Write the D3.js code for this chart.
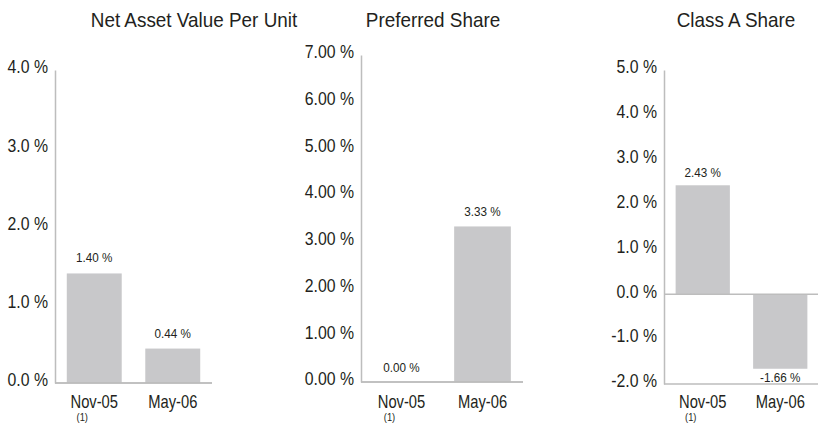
<!DOCTYPE html>
<html>
    <head>
        <meta charset="UTF-8">
        <script src="https://d3js.org/d3.v7.min.js"></script>
        <style>
            body { margin: 0; background: #fff; }
            text { font-family: "Liberation Sans", Arial, sans-serif; fill: #231f20; }
        </style>
    </head>

    <body>

        <svg id="canvas"></svg>

        <script>

            width = 818;
            height = 426;

            categories = ["Nov-05", "May-06"];
            footnotes = ["(1)", ""];

            navTitle = "Net Asset Value Per Unit";
            navValues = [1.40, 0.44];
            navTicks = [0, 1, 2, 3, 4];

            prefTitle = "Preferred Share";
            prefValues = [0.00, 3.33];
            prefTicks = [0, 1, 2, 3, 4, 5, 6, 7];

            classATitle = "Class A Share";
            classAValues = [2.43, -1.66];
            classATicks = [-2, -1, 0, 1, 2, 3, 4, 5];

            barColor = "#c8c8ca";
            axisColor = "#bdbdbd";

            canvas = d3.select("#canvas")
                .attr("width", width)
                .attr("height", height);

            panels = [
                { title: navTitle, values: navValues, ticks: navTicks, digits: 1,
                  left: 55, right: 212, top: 70, bottom: 383, titleX: 194, lift: 11 },
                { title: prefTitle, values: prefValues, ticks: prefTicks, digits: 2,
                  left: 361, right: 523, top: 55, bottom: 382, titleX: 433, lift: 10 },
                { title: classATitle, values: classAValues, ticks: classATicks, digits: 1,
                  left: 664, right: 819, top: 70, bottom: 384, titleX: 736, lift: 8 }
            ];

            function fmt(v, digits) {
                return v.toFixed(digits) + " %";
            }

            // the source font is a narrow grotesque; squeeze Liberation Sans horizontally
            function narrow(sel, sx) {
                sel.attr("transform", function() {
                    var t = d3.select(this);
                    var px = +t.attr("x") || 0, py = +t.attr("y") || 0;
                    t.attr("x", 0).attr("y", 0);
                    return "translate(" + px + "," + py + ") scale(" + sx + ",1)";
                });
            }

            panels.forEach(function(p) {

                g = canvas.append("g");

                x = d3.scaleBand()
                    .domain(categories)
                    .range([p.left, p.right])
                    .paddingInner(0.3)
                    .paddingOuter(0.15);

                y = d3.scaleLinear()
                    .domain(d3.extent(p.ticks))
                    .range([p.bottom, p.top]);

                g.append("text")
                    .attr("x", p.titleX)
                    .attr("y", 27)
                    .attr("text-anchor", "middle")
                    .style("font-size", "21px")
                    .call(narrow, 0.9)
                    .text(p.title);

                // y axis: only the line and the labels
                yAxis = g.append("g")
                    .attr("transform", "translate(" + p.left + ",0)")
                    .call(d3.axisLeft(y)
                        .tickValues(p.ticks)
                        .tickSize(0)
                        .tickPadding(7)
                        .tickFormat(d => fmt(d, p.digits)));
                yAxis.select(".domain").attr("stroke", axisColor).attr("stroke-width", 1.5);
                yAxis.selectAll(".tick text")
                    .attr("x", -7)
                    .attr("y", -3)
                    .attr("dy", "0.32em")
                    .style("font-size", "18px")
                    .style("fill", "#231f20")
                    .call(narrow, 0.88);

                // bars
                g.selectAll("rect.bar")
                    .data(p.values)
                    .enter().append("rect")
                    .attr("class", "bar")
                    .attr("x", (d, i) => x(categories[i]))
                    .attr("width", x.bandwidth())
                    .attr("y", d => y(Math.max(0, d)))
                    .attr("height", d => Math.abs(y(d) - y(0)))
                    .attr("fill", barColor);

                // baseline at zero and bottom line
                [0, d3.min(p.ticks)].forEach(function(v) {
                    g.append("line")
                        .attr("x1", p.left).attr("x2", p.right)
                        .attr("y1", y(v)).attr("y2", y(v))
                        .attr("stroke", axisColor)
                        .attr("stroke-width", 1.5);
                });

                // value labels
                g.selectAll("text.val")
                    .data(p.values)
                    .enter().append("text")
                    .attr("class", "val")
                    .attr("x", (d, i) => x(categories[i]) + x.bandwidth() / 2)
                    .attr("y", d => d >= 0 ? y(d) - p.lift : y(d) + 13)
                    .attr("text-anchor", "middle")
                    .style("font-size", "13px")
                    .call(narrow, 0.9)
                    .text(d => fmt(d, 2));

                // category labels
                g.selectAll("text.cat")
                    .data(categories)
                    .enter().append("text")
                    .attr("class", "cat")
                    .attr("x", d => x(d) + x.bandwidth() / 2)
                    .attr("y", 408)
                    .attr("text-anchor", "middle")
                    .style("font-size", "18px")
                    .call(narrow, 0.82)
                    .text(d => d);

                g.selectAll("text.note")
                    .data(footnotes)
                    .enter().append("text")
                    .attr("class", "note")
                    .attr("x", (d, i) => x(categories[i]) + x.bandwidth() / 2 - 12)
                    .attr("y", 421)
                    .attr("text-anchor", "middle")
                    .style("font-size", "11px")
                    .call(narrow, 0.85)
                    .text(d => d);
            });

        </script>

    </body>

</html>
